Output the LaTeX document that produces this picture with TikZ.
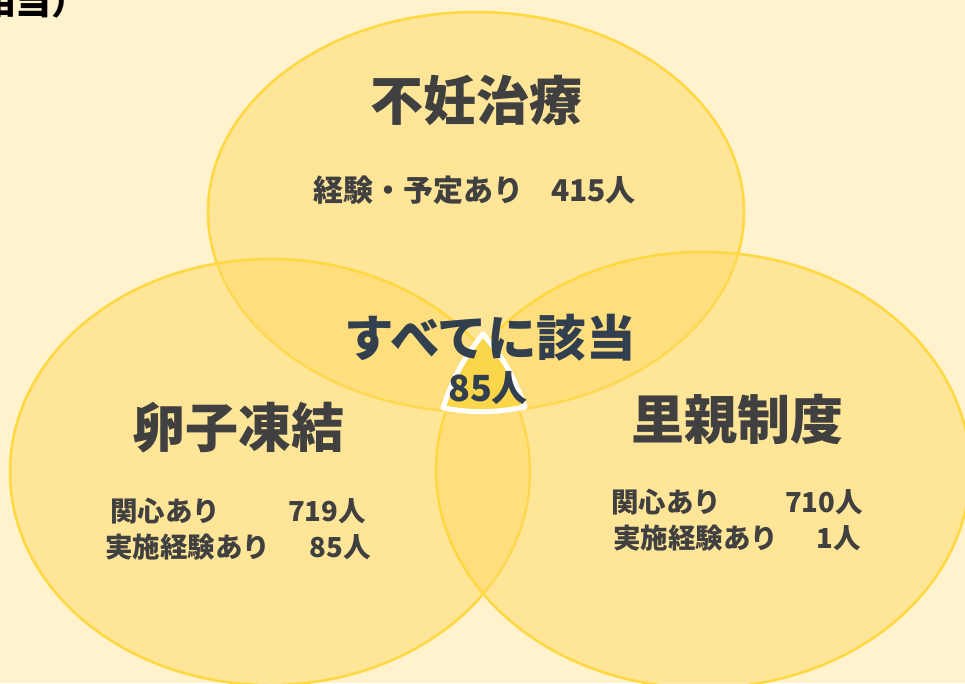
\documentclass[tikz,border=0pt]{standalone}
\usepackage{fontspec}
\setmainfont{Noto Sans CJK JP}
\definecolor{bgc}{HTML}{FFF2CC}
\definecolor{fillc}{HTML}{FFD966}
\definecolor{edgec}{HTML}{FFD83F}
\definecolor{tric}{HTML}{FCD64A}
\definecolor{txt}{HTML}{404040}
\definecolor{slate}{HTML}{323F4F}
\tikzset{
  venn/.style={fill=fillc, fill opacity=0.5, draw=edgec, draw opacity=1, line width=2.5pt},
  head/.style={font=\bfseries\fontsize{53}{60}\selectfont, text=txt, inner sep=0pt},
  subtop/.style={font=\bfseries\fontsize{30}{36}\selectfont, text=txt, inner sep=0pt},
  sub/.style={font=\bfseries\fontsize{27.5}{32}\selectfont, text=txt, inner sep=0pt},
}
\begin{document}
\begin{tikzpicture}[x=1pt, y=-1pt]
\useasboundingbox (0,0) rectangle (965,683);
\clip (0,0) rectangle (965,683);
\fill[bgc] (0,0) rectangle (965,683);
% ellipses
\draw[venn] (476,212) ellipse [x radius=268pt, y radius=200pt];
\draw[venn] (270,472) ellipse [x radius=260pt, y radius=213pt];
\draw[venn] (703,470) ellipse [x radius=267pt, y radius=218pt];
% centre triangle
\coordinate (ta) at (483,334);
\coordinate (tb) at (443,408);
\coordinate (tc) at (525,407);
\draw[white, line width=5pt, fill=tric, line join=round] (ta) to[bend right=10] (tb) to[bend right=10] (tc) to[bend right=10] cycle;
% cut-off title
\node[anchor=base east, font=\bfseries\fontsize{36}{40}\selectfont, text=black, inner sep=0pt] (title) at (88,14) {相当）};
% top
\node[head] (t1) at (476,100) {不妊治療};
\node[subtop, anchor=west] (t2) at (313,190) {経験・予定あり};
\node[subtop, anchor=east] (t3) at (636,190) {415人};
% centre
\node[head, text=slate, font=\bfseries\fontsize{49.5}{56}\selectfont] (c1) at (490,338) {すべてに該当};
\node[font=\bfseries\fontsize{36}{40}\selectfont, text=slate, inner sep=0pt] (c2) at (488,388) {85人};
% left
\node[head] (l1) at (238,428) {卵子凍結};
\node[sub, anchor=west] (l2) at (110,511) {関心あり};
\node[sub, anchor=east] (l3) at (366,511) {719人};
\node[sub, anchor=west] (l4) at (105,547) {実施経験あり};
\node[sub, anchor=east] (l5) at (371,547) {85人};
% right
\node[head] (r1) at (737,419) {里親制度};
\node[sub, anchor=west] (r2) at (611,502) {関心あり};
\node[sub, anchor=east] (r3) at (863,502) {710人};
\node[sub, anchor=west] (r4) at (613,538) {実施経験あり};
\node[sub, anchor=east] (r5) at (861,538) {1人};
\end{tikzpicture}
\end{document}
